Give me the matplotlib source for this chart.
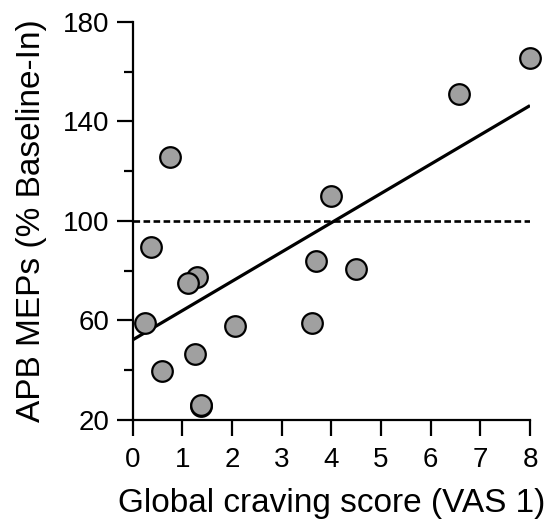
import matplotlib
matplotlib.use('Agg')
import matplotlib.pyplot as plt
import numpy as np
from matplotlib.ticker import MultipleLocator

plt.rcParams['font.family'] = ['Liberation Sans', 'DejaVu Sans']

# global craving score (VAS 1) vs APB MEPs (% baseline-in)
craving = [8.0, 6.57, 0.75, 4.0, 0.37, 1.30, 1.12, 3.70, 4.50, 0.25, 2.06, 3.62, 1.25, 0.60, 1.37, 1.38]
meps = [165.4, 150.9, 125.6, 110.2, 89.4, 77.4, 75.2, 84.0, 80.7, 59.1, 57.9, 59.1, 46.4, 39.8, 25.7, 25.9]

# regression line end points
fit_x = [0, 8]
fit_y = [52.2, 146.4]
baseline = 100

fig = plt.figure(figsize=(5.54, 5.21), dpi=100)
ax = fig.add_axes([0.2395, 0.1939, 0.9567-0.2395, 0.9578-0.1939])

ax.plot(fit_x, fit_y, color='k', lw=2.3, zorder=2, solid_capstyle='butt')
ax.plot(fit_x, [baseline, baseline], color='k', lw=1.9, ls=(0, (2.5, 1.3)), zorder=2)
ax.scatter(craving, meps, s=220, facecolor='#a0a0a0', edgecolor='k', linewidth=1.6, zorder=3, clip_on=False)

ax.set_xlim(0, 8)
ax.set_ylim(20, 180)
ax.set_xticks(range(0, 9))
ax.set_yticks([20, 60, 100, 140, 180])
ax.yaxis.set_minor_locator(MultipleLocator(20))

for s in ['top', 'right']:
    ax.spines[s].set_visible(False)
for s in ['left', 'bottom']:
    ax.spines[s].set_linewidth(1.6)

ax.tick_params(axis='both', which='major', direction='out', length=11.5, width=1.6, labelsize=20, pad=5)
ax.tick_params(axis='x', which='major', pad=8)
ax.tick_params(axis='y', which='minor', direction='out', length=6.5, width=1.6)

ax.set_xlabel('Global craving score (VAS 1)', fontsize=24, labelpad=11)
ax.set_ylabel('APB MEPs (% Baseline-In)', fontsize=24, labelpad=12)

fig.savefig('out.png', dpi=100)
